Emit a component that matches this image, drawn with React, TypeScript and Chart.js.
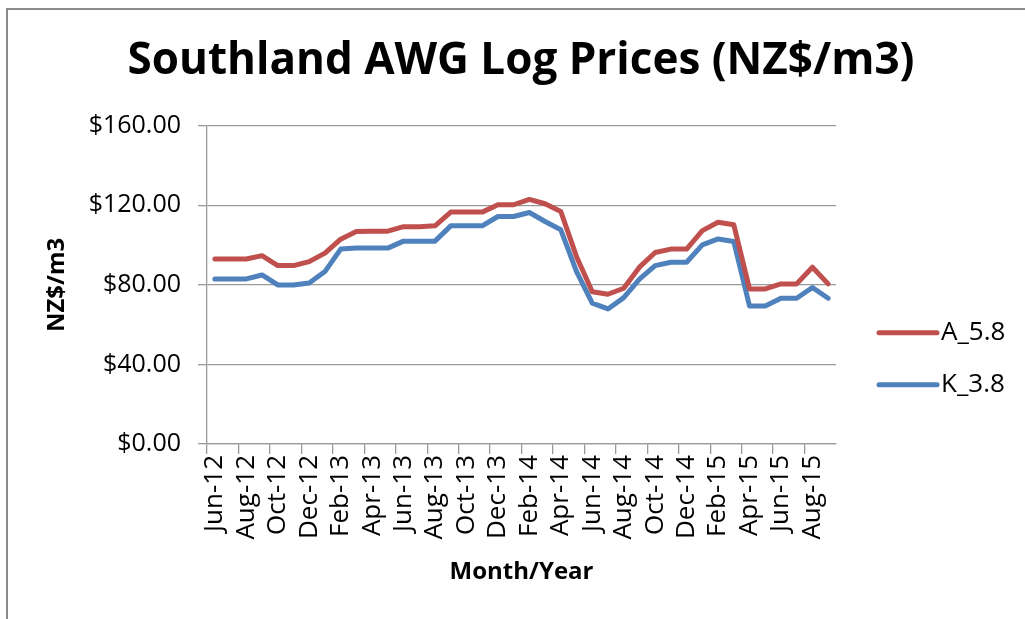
import React, { useEffect, useRef } from 'react';
import { Chart, registerables } from 'chart.js';

Chart.register(...registerables);

const months = [
  'Jun-12', 'Jul-12', 'Aug-12', 'Sep-12', 'Oct-12', 'Nov-12', 'Dec-12',
  'Jan-13', 'Feb-13', 'Mar-13', 'Apr-13', 'May-13', 'Jun-13', 'Jul-13', 'Aug-13', 'Sep-13', 'Oct-13', 'Nov-13', 'Dec-13',
  'Jan-14', 'Feb-14', 'Mar-14', 'Apr-14', 'May-14', 'Jun-14', 'Jul-14', 'Aug-14', 'Sep-14', 'Oct-14', 'Nov-14', 'Dec-14',
  'Jan-15', 'Feb-15', 'Mar-15', 'Apr-15', 'May-15', 'Jun-15', 'Jul-15', 'Aug-15', 'Sep-15',
];

const a58 = [
  93, 93, 93, 94.7, 89.7, 89.7, 91.7, 96, 103, 106.8, 107, 107, 109.3, 109.3, 109.7, 116.6, 116.6, 116.6, 120.3, 120.3,
  123, 120.8, 116.9, 94.2, 76.6, 75.3, 78.3, 88.9, 96.3, 98, 98, 107.3, 111.5, 110.2, 78, 78, 80.5, 80.5, 88.9, 80.5,
];

const k38 = [
  83, 83, 83, 85, 80, 80, 81, 86.7, 98, 98.5, 98.5, 98.5, 102, 102, 102, 109.7, 109.7, 109.7, 114.4, 114.4,
  116.4, 111.9, 107.7, 86.7, 70.8, 67.9, 73.6, 82.9, 89.7, 91.4, 91.4, 100.1, 103.1, 101.8, 69.4, 69.4, 73.3, 73.3, 78.7, 73.3,
];

const seriesNames = ['A_5.8', 'K_3.8'];
const seriesColors = ['#C0504D', '#4F81BD'];
const yMin = 0;
const yMax = 160;
const yStep = 40;

const GRID = '#9a9a9a';
const FONT = "'Open Sans', sans-serif";

const sideLegend = {
  id: 'sideLegend',
  afterDraw(chart: any) {
    const { ctx, chartArea } = chart;
    ctx.save();
    chart.data.datasets.forEach((ds: any, i: number) => {
      const y = chartArea.top + 207 + i * 52;
      const x0 = chartArea.right + 43;
      const x1 = chartArea.right + 101;
      ctx.strokeStyle = ds.borderColor;
      ctx.lineWidth = 5;
      ctx.lineCap = 'round';
      ctx.beginPath();
      ctx.moveTo(x0, y);
      ctx.lineTo(x1, y);
      ctx.stroke();
      ctx.fillStyle = '#000';
      ctx.font = `26px ${FONT}`;
      ctx.textAlign = 'left';
      ctx.textBaseline = 'middle';
      ctx.fillText(ds.label, x1 + 4, y);
    });
    ctx.restore();
  },
};

export default function App() {
  const ref = useRef<HTMLCanvasElement>(null);

  useEffect(() => {
    if (!ref.current) return;
    const chart = new Chart(ref.current, {
      type: 'line',
      data: {
        labels: months,
        datasets: [
          { label: seriesNames[0], data: a58, borderColor: seriesColors[0], backgroundColor: seriesColors[0] },
          { label: seriesNames[1], data: k38, borderColor: seriesColors[1], backgroundColor: seriesColors[1] },
        ].map((d) => ({
          ...d,
          borderWidth: 5,
          pointRadius: 0,
          pointHoverRadius: 0,
          tension: 0,
          borderJoinStyle: 'round' as const,
          borderCapStyle: 'round' as const,
          fill: false,
          yAxisID: 'y',
        })),
      },
      options: {
        responsive: false,
        animation: false,
        devicePixelRatio: 1,
        layout: { padding: 0 },
        plugins: {
          legend: { display: false },
          tooltip: { enabled: false },
          title: {
            display: true,
            text: 'Southland AWG Log Prices (NZ$/m3)',
            color: '#000',
            font: { family: FONT, size: 44, weight: 'bold' },
            padding: { top: 35, bottom: 38 },
          },
        },
        scales: {
          x: {
            type: 'category',
            offset: true,
            grid: {
              offset: true,
              drawOnChartArea: false,
              drawTicks: true,
              tickLength: 10,
              color: (c: any) => (c.index % 2 === 0 ? GRID : 'rgba(0,0,0,0)'),
              lineWidth: 1.3,
            },
            border: { display: true, color: GRID, width: 1.3 },
            ticks: {
              autoSkip: false,
              minRotation: 90,
              maxRotation: 90,
              padding: 1,
              color: '#000',
              font: { family: FONT, size: 26 },
              callback: (_v: any, i: number) => (i % 2 === 0 ? months[i] : ''),
            },
            title: {
              display: true,
              text: 'Month/Year',
              color: '#000',
              font: { family: FONT, size: 24, weight: 'bold' },
              padding: { top: 0, bottom: 32 },
            },
            afterFit: (s: any) => {
              s.height = 175;
            },
          },
          y: {
            min: yMin,
            max: yMax,
            ticks: {
              stepSize: yStep,
              padding: 17,
              color: '#000',
              font: { family: FONT, size: 25 },
              callback: (v: any) => '$' + Number(v).toFixed(2),
            },
            grid: {
              color: GRID,
              lineWidth: 1.3,
              tickLength: 9,
            },
            border: { display: true, color: GRID, width: 1.3 },
            title: {
              display: true,
              text: 'NZ$/m3',
              color: '#000',
              font: { family: FONT, size: 24, weight: 'bold' },
              padding: { top: 26, bottom: 0 },
            },
            afterFit: (s: any) => {
              s.width = 190;
            },
          },
          legendSpace: {
            type: 'linear',
            position: 'right',
            display: true,
            grid: { display: false, drawTicks: false },
            border: { display: false },
            ticks: { display: false },
            afterFit: (s: any) => {
              s.width = 189;
            },
          },
        },
      },
      plugins: [sideLegend],
    });
    return () => chart.destroy();
  }, []);

  return (
    <div style={{ position: 'absolute', left: 0, top: 0, width: 1025, height: 619, overflow: 'hidden', background: '#fff' }}>
      <div
        style={{
          position: 'absolute',
          left: 6,
          top: 8,
          width: 1040,
          height: 640,
          borderLeft: '2px solid #8c8c8c',
          borderTop: '2px solid #8c8c8c',
        }}
      />
      <canvas ref={ref} width={1008} height={619} style={{ position: 'absolute', left: 17, top: 0, width: 1008, height: 619 }} />
    </div>
  );
}
